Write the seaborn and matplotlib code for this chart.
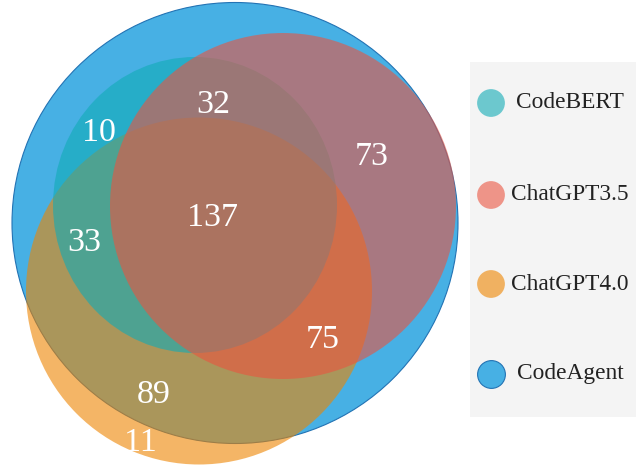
import matplotlib
matplotlib.use("Agg")
import matplotlib.pyplot as plt
from matplotlib.patches import Ellipse, Rectangle
import seaborn as sns
import pandas as pd

# ---- data ----
set_names = ["CodeBERT", "ChatGPT3.5", "ChatGPT4.0", "CodeAgent"]
region_counts = [10, 32, 73, 137, 33, 75, 89, 11]

# ---- layout / style ----
set_colors = {"CodeBERT": (17/255, 171/255, 182/255),
              "ChatGPT3.5": (234/255, 84/255, 64/255),
              "ChatGPT4.0": (238/255, 133/255, 0/255),
              "CodeAgent": (71/255, 176/255, 228/255)}
set_alpha = {"CodeBERT": 0.6, "ChatGPT3.5": 0.6, "ChatGPT4.0": 0.6, "CodeAgent": 1.0}
# ellipse geometry in pixel coords: (cx, cy, width, height)
geom = {"CodeAgent": (235, 223, 446, 441),
        "ChatGPT4.0": (199, 291, 346, 347),
        "CodeBERT": (195, 205, 284, 296),
        "ChatGPT3.5": (283, 206, 346, 346)}
draw_order = ["CodeAgent", "ChatGPT4.0", "CodeBERT", "ChatGPT3.5"]
label_pos = [(99, 133), (213, 105), (372, 157), (213, 218), (84, 243),
             (323, 340), (154, 395), (140, 443)]
edge_blue = (35/255, 115/255, 180/255)

sns.set_theme(style="white")
plt.rcParams["font.family"] = ["Liberation Serif", "DejaVu Serif"]

fig = plt.figure(figsize=(6.36, 4.67), dpi=100)
ax = fig.add_axes([0, 0, 1, 1])

for name in draw_order:
    cx, cy, w, h = geom[name]
    ec = edge_blue if name == "CodeAgent" else "none"
    ax.add_patch(Ellipse((cx, cy), w, h, facecolor=set_colors[name],
                         alpha=set_alpha[name], edgecolor=ec, linewidth=0.8,
                         zorder=2))

for cnt, (x, y) in zip(region_counts, label_pos):
    ax.text(x, y, str(cnt), color="white", fontsize=24.5, ha="center",
            va="center", zorder=5)

# legend panel
ax.add_patch(Rectangle((470, 62), 180, 355, facecolor="#f4f4f4",
                       edgecolor="none", zorder=1))
leg_y = [103, 195, 284, 374]
leg_df = pd.DataFrame({"name": set_names, "x": [491]*4, "y": leg_y})
for name, y in zip(set_names, leg_y):
    ec = edge_blue if name == "CodeAgent" else "none"
    sns.scatterplot(data=leg_df[leg_df["name"] == name], x="x", y="y",
                    color=set_colors[name], alpha=set_alpha[name], s=400,
                    edgecolor=ec, linewidth=0.8, ax=ax, zorder=3, legend=False)
    ax.text(570, y, name, color="#222222", fontsize=16.8, ha="center",
            va="center", zorder=4)
ax.set_xlabel("")
ax.set_ylabel("")
ax.axis("off")
ax.set_xlim(0, 636)
ax.set_ylim(467, 0)
ax.set_aspect("equal")

fig.savefig("out.png", dpi=100)
